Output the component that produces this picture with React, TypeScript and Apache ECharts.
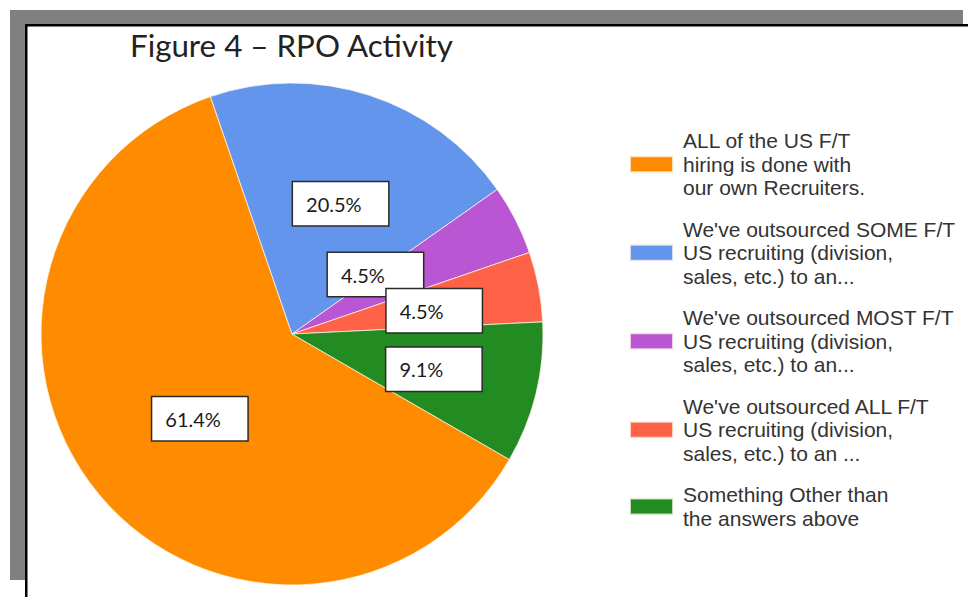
import React, { useEffect, useRef } from "react";
import * as echarts from "echarts";

const TITLE = "Figure 4 – RPO Activity";
const categories = [
  "ALL of the US F/T\nhiring is done with\nour own Recruiters.",
  "We've outsourced SOME F/T\nUS recruiting (division,\nsales, etc.) to an...",
  "We've outsourced MOST F/T\nUS recruiting (division,\nsales, etc.) to an...",
  "We've outsourced ALL F/T\nUS recruiting (division,\nsales, etc.) to an ...",
  "Something Other than\nthe answers above",
];
const values = [61.4, 20.5, 4.5, 4.5, 9.1];
const colors = ["#FF8C00", "#6495ED", "#BA55D3", "#FF6347", "#228B22"];
// small nudges of the inside labels (px), per slice
const labelNudges: number[][] = [
  [7, 3],
  [9, -8],
  [-31, -1],
  [16, 1],
  [17, 5],
];

export default function App() {
  const ref = useRef<HTMLDivElement>(null);
  useEffect(() => {
    if (!ref.current) return;
    const chart = echarts.init(ref.current, null, { renderer: "svg" });
    chart.setOption({
      animation: false,
      backgroundColor: "#ffffff",
      color: colors,
      title: {
        text: TITLE,
        left: 130,
        top: 29,
        padding: 0,
        textStyle: {
          fontFamily: "Lato",
          fontSize: 31.3,
          fontWeight: "normal",
          color: "#222222",
        },
      },
      legend: {
        orient: "vertical",
        left: 629,
        top: 129,
        padding: 0,
        itemGap: 18,
        itemWidth: 43,
        itemHeight: 16,
        icon: "rect",
        selectedMode: false,
        textStyle: {
          fontFamily: "Liberation Sans",
          fontSize: 21,
          lineHeight: 23.5,
          color: "#333333",
          padding: [0, 0, 0, 5],
        },
        data: categories,
      },
      graphic: [
        { type: "rect", shape: { x: 10, y: 10, width: 953, height: 14 }, style: { fill: "#808080" } },
        { type: "rect", shape: { x: 10, y: 10, width: 15, height: 570 }, style: { fill: "#808080" } },
        { type: "rect", shape: { x: 25, y: 24, width: 943, height: 2.5 }, style: { fill: "#000000" } },
        { type: "rect", shape: { x: 25, y: 24, width: 2.5, height: 573 }, style: { fill: "#000000" } },
      ],
      series: [
        {
          type: "pie",
          center: [292, 334],
          radius: 251,
          startAngle: 330,
          clockwise: true,
          avoidLabelOverlap: false,
          itemStyle: { borderColor: "rgba(255,245,235,0.75)", borderWidth: 1 },
          emphasis: { disabled: true },
          label: {
            show: true,
            position: "inside",
            formatter: (p: any) => `{v|${Number(p.value).toFixed(1)}%}`,
            backgroundColor: "#ffffff",
            borderColor: "#2b2b2b",
            borderWidth: 1.5,
            padding: [10, 13, 10, 13],
            rich: {
              v: {
                width: 69,
                align: "left",
                fontFamily: "Lato",
                fontSize: 20,
                lineHeight: 23,
                color: "#1a1a1a",
              },
            },
          },
          labelLine: { show: false },
          labelLayout: (params: any) => ({
            dx: labelNudges[params.dataIndex][0],
            dy: labelNudges[params.dataIndex][1],
          }),
          data: categories.map((name, i) => ({ name, value: values[i] })),
        },
      ],
    });
    return () => chart.dispose();
  }, []);
  return (
    <div
      ref={ref}
      style={{ position: "fixed", left: 0, top: 0, width: 968, height: 597, background: "#fff" }}
    />
  );
}
